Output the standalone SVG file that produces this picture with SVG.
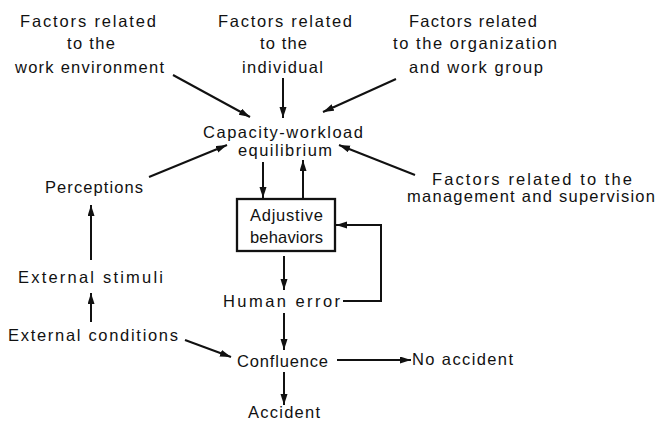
<svg xmlns="http://www.w3.org/2000/svg" width="658" height="422" viewBox="0 0 658 422">
<style>
text{font-family:"Liberation Sans",Arial,sans-serif;font-size:16.5px;fill:#111;}
.c{fill:none;stroke:#111;stroke-width:2;}
.box{fill:none;stroke:#111;stroke-width:2.3;}
</style>
<defs>
<marker id="ah" markerUnits="userSpaceOnUse" markerWidth="12" markerHeight="8" refX="11" refY="3.5" orient="auto">
<path d="M0,0 L11,3.5 L0,7 z" fill="#111"/>
</marker>
</defs>
<rect width="658" height="422" fill="#fff"/>
<g id="work-env">
<text x="20" y="27" textLength="136" lengthAdjust="spacing">Factors related</text>
<text x="67" y="49" textLength="48" lengthAdjust="spacing">to the</text>
<text x="15" y="73" textLength="149" lengthAdjust="spacing">work environment</text>
</g>
<g id="individual">
<text x="218" y="27" textLength="134" lengthAdjust="spacing">Factors related</text>
<text x="260" y="49" textLength="47" lengthAdjust="spacing">to the</text>
<text x="242" y="73" textLength="81" lengthAdjust="spacing">individual</text>
</g>
<g id="organization">
<text x="409" y="27" textLength="128" lengthAdjust="spacing">Factors related</text>
<text x="393" y="49" textLength="164" lengthAdjust="spacing">to the organization</text>
<text x="409" y="73" textLength="134" lengthAdjust="spacing">and work group</text>
</g>
<g id="equilibrium">
<text x="203" y="138" textLength="160" lengthAdjust="spacing">Capacity-workload</text>
<text x="238" y="156" textLength="94" lengthAdjust="spacing">equilibrium</text>
</g>
<g id="management">
<text x="432" y="185" textLength="200" lengthAdjust="spacing">Factors related to the</text>
<text x="407" y="202" textLength="248" lengthAdjust="spacing">management and supervision</text>
</g>
<g id="perceptions">
<text x="45" y="193" textLength="98" lengthAdjust="spacing">Perceptions</text>
</g>
<g id="adjustive">
<rect class="box" x="237" y="199" width="98" height="52"/>
<text x="250" y="221" textLength="73" lengthAdjust="spacing">Adjustive</text>
<text x="250" y="243" textLength="73" lengthAdjust="spacing">behaviors</text>
</g>
<g id="stimuli">
<text x="18" y="283" textLength="145" lengthAdjust="spacing">External stimuli</text>
</g>
<g id="human-error">
<text x="223" y="307" textLength="117" lengthAdjust="spacing">Human error</text>
</g>
<g id="conditions">
<text x="8" y="341" textLength="170" lengthAdjust="spacing">External conditions</text>
</g>
<g id="confluence">
<text x="237" y="367" textLength="91" lengthAdjust="spacing">Confluence</text>
</g>
<g id="no-accident">
<text x="412" y="365" textLength="101" lengthAdjust="spacing">No accident</text>
</g>
<g id="accident">
<text x="248" y="418" textLength="72" lengthAdjust="spacing">Accident</text>
</g>
<g id="connectors">
<line class="c" x1="173" y1="75" x2="250" y2="117" marker-end="url(#ah)"/>
<line class="c" x1="283" y1="78" x2="283" y2="118" marker-end="url(#ah)"/>
<line class="c" x1="396" y1="79" x2="323" y2="112" marker-end="url(#ah)"/>
<line class="c" x1="149" y1="177" x2="227" y2="145" marker-end="url(#ah)"/>
<line class="c" x1="415" y1="175" x2="339" y2="145" marker-end="url(#ah)"/>
<line class="c" x1="263" y1="162" x2="263" y2="198" marker-end="url(#ah)"/>
<line class="c" x1="303" y1="199" x2="303" y2="160" marker-end="url(#ah)"/>
<line class="c" x1="284" y1="256" x2="284" y2="290" marker-end="url(#ah)"/>
<polyline class="c" points="343,301 381,301 381,225 336,225" marker-end="url(#ah)"/>
<line class="c" x1="284" y1="313" x2="284" y2="350" marker-end="url(#ah)"/>
<line class="c" x1="337" y1="360" x2="411" y2="360" marker-end="url(#ah)"/>
<line class="c" x1="284" y1="372" x2="284" y2="405" marker-end="url(#ah)"/>
<line class="c" x1="185" y1="340" x2="231" y2="357" marker-end="url(#ah)"/>
<line class="c" x1="91" y1="322" x2="91" y2="293" marker-end="url(#ah)"/>
<line class="c" x1="91" y1="260" x2="91" y2="205" marker-end="url(#ah)"/>
</g>
</svg>
